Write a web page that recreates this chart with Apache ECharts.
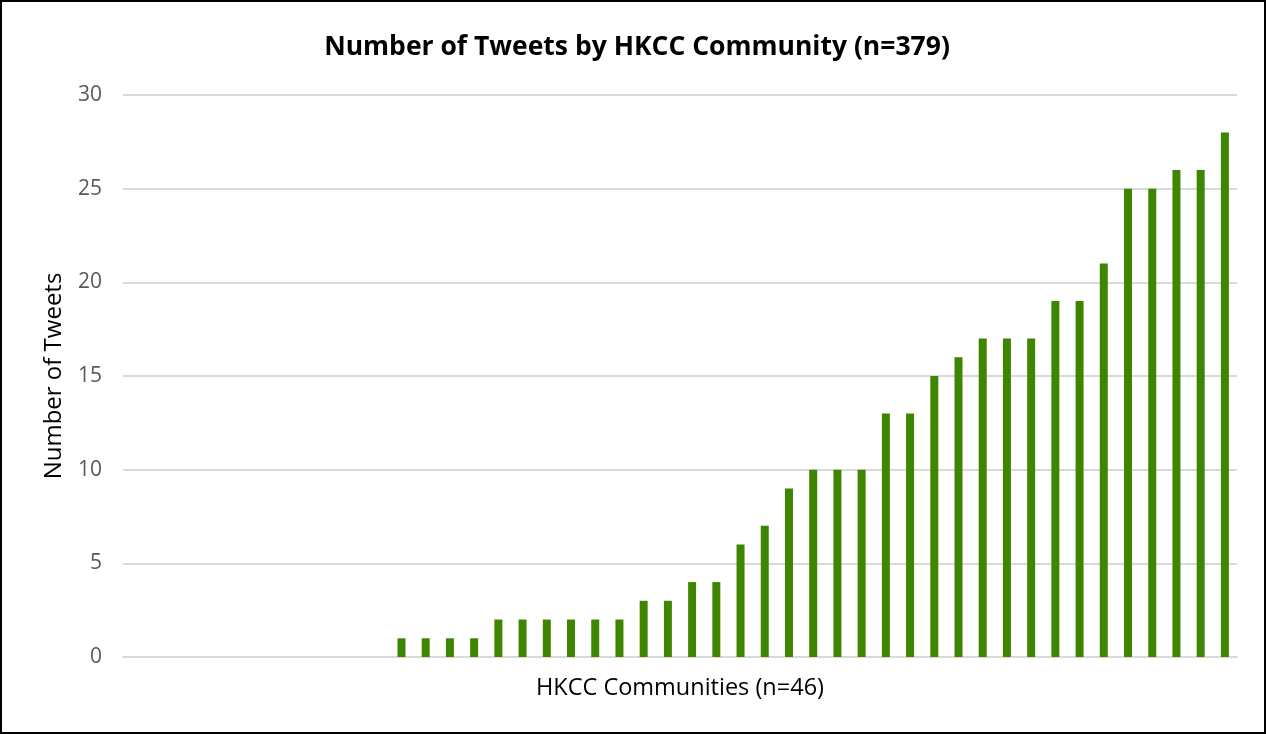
<!DOCTYPE html>
<html>
<head>
<meta charset="utf-8">
<script src="https://cdn.jsdelivr.net/npm/echarts@6/dist/echarts.min.js"></script>
<style>
html,body{margin:0;padding:0;background:#fff;}
#wrap{position:absolute;left:0;top:0;width:1262px;height:730px;border:2px solid #000;}
#chart{width:1262px;height:730px;}
</style>
</head>
<body>
<div id="wrap"><div id="chart"></div></div>
<script>
const categories = Array.from({length:46}, (_, i) => 'C' + (i + 1));
const tweets = [0,0,0,0,0,0,0,0,0,0,0,1,1,1,1,2,2,2,2,2,2,3,3,4,4,6,7,9,10,10,10,13,13,15,16,17,17,17,19,19,21,25,25,26,26,28];
const yTicks = [0,5,10,15,20,25,30];

const chart = echarts.init(document.getElementById('chart'));
chart.setOption({
  animation: false,
  title: {
    text: 'Number of Tweets by HKCC Community (n=379)',
    left: 630, top: 27, textAlign: 'center',
    textStyle: {fontFamily: 'Open Sans', fontSize: 26.5, fontWeight: 'bold', color: '#000'}
  },
  grid: {left: 121, right: 27, top: 93, bottom: 75},
  xAxis: {
    type: 'category',
    data: categories,
    name: 'HKCC Communities (n=46)',
    nameLocation: 'middle',
    nameGap: 19,
    nameTextStyle: {fontFamily: 'Open Sans', fontSize: 23.5, color: '#000'},
    axisLine: {show: true, lineStyle: {color: '#d9d9d9', width: 2}},
    axisTick: {show: false},
    axisLabel: {show: false}
  },
  yAxis: {
    type: 'value',
    min: yTicks[0], max: yTicks[yTicks.length - 1], interval: 5,
    name: 'Number of Tweets',
    nameLocation: 'middle',
    nameGap: 57,
    nameTextStyle: {fontFamily: 'Open Sans', fontSize: 24, color: '#000'},
    axisLine: {show: false},
    axisTick: {show: false},
    axisLabel: {fontFamily: 'Open Sans', fontSize: 21, color: '#595959', margin: 21},
    splitLine: {lineStyle: {color: '#d9d9d9', width: 2}}
  },
  series: [{
    type: 'bar',
    data: tweets,
    barWidth: 8,
    itemStyle: {color: '#3f8600'}
  }]
});
</script>
</body>
</html>
